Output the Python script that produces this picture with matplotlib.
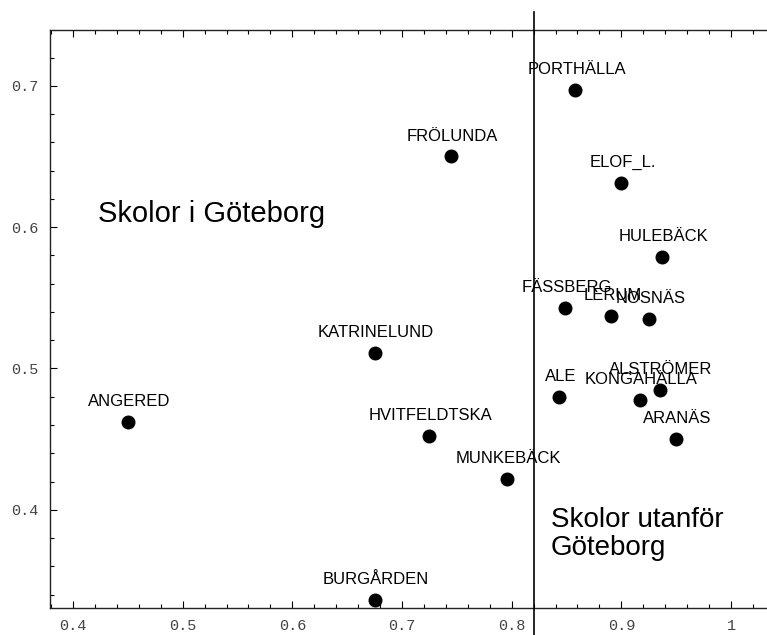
import matplotlib
matplotlib.use('Agg')
import matplotlib.pyplot as plt
from matplotlib.ticker import MultipleLocator, FixedLocator

# school names and their coordinates
schools = ['PORTHÄLLA', 'FRÖLUNDA', 'ELOF_L.', 'HULEBÄCK', 'FÄSSBERG', 'LERUM',
           'NOSNÄS', 'KATRINELUND', 'ALSTRÖMER', 'KONGAHÄLLA', 'ALE', 'ANGERED',
           'ARANÄS', 'HVITFELDTSKA', 'MUNKEBÄCK', 'BURGÅRDEN']
xVals = [0.858, 0.745, 0.900, 0.937, 0.849, 0.891,
         0.925, 0.675, 0.935, 0.917, 0.843, 0.450,
         0.950, 0.725, 0.796, 0.675]
yVals = [0.697, 0.650, 0.631, 0.579, 0.543, 0.537,
         0.535, 0.511, 0.485, 0.478, 0.480, 0.462,
         0.450, 0.452, 0.422, 0.336]

xTicks = [0.4, 0.5, 0.6, 0.7, 0.8, 0.9, 1.0]
xTickLabels = ['0.4', '0.5', '0.6', '0.7', '0.8', '0.9', '1']
yTicks = [0.4, 0.5, 0.6, 0.7]
yTickLabels = ['0.4', '0.5', '0.6', '0.7']

splitX = 0.82
leftText = 'Skolor i Göteborg'
rightText = 'Skolor utanför\nGöteborg'

fig = plt.figure(figsize=(7.67, 6.35), dpi=100)
ax = fig.add_axes([50/767, 27.3/635, 717/767, 577.7/635])

ax.set_xlim(0.379, 1.0328)
ax.set_ylim(0.3307, 0.7395)

ax.scatter(xVals, yVals, s=82, color='black', zorder=3, clip_on=False)

for name, x, y in zip(schools, xVals, yVals):
    ax.annotate(name, (x, y), xytext=(1, 11.5), textcoords='offset points',
                ha='center', va='baseline', fontsize=12,
                family='Liberation Sans', color='black')

# vertical divider, runs a bit past the frame at both ends
ax.axvline(splitX, ymin=-0.047, ymax=1.031, color='black', lw=1.2,
           clip_on=False, zorder=4)

ax.text(0.4225, 0.609, leftText, fontsize=21, family='Liberation Sans',
        ha='left', va='center')
ax.text(0.8355, 0.364, rightText, fontsize=20, family='Liberation Sans',
        ha='left', va='bottom', linespacing=1.1)

ax.spines['right'].set_visible(False)
for s in ['left', 'bottom', 'top']:
    ax.spines[s].set_linewidth(1.0)
    ax.spines[s].set_color('#222222')

ax.xaxis.set_major_locator(FixedLocator(xTicks))
ax.set_xticklabels(xTickLabels)
ax.yaxis.set_major_locator(FixedLocator(yTicks))
ax.set_yticklabels(yTickLabels)
ax.xaxis.set_minor_locator(MultipleLocator(0.02))
ax.yaxis.set_minor_locator(MultipleLocator(0.02))

ax.tick_params(which='both', direction='in', top=True, right=False,
               labeltop=False, width=0.8, color='black')
ax.tick_params(which='major', length=5, pad=8)
ax.tick_params(which='minor', length=3)
for lbl in ax.get_xticklabels() + ax.get_yticklabels():
    lbl.set_family('Liberation Mono')
    lbl.set_fontsize(11)
    lbl.set_color('#444444')

fig.savefig('out.png', dpi=100)
